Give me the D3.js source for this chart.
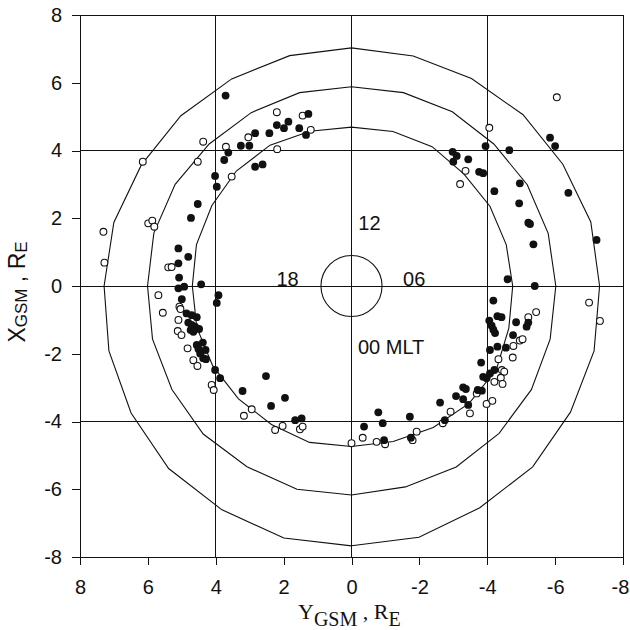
<!DOCTYPE html>
<html lang="en">
<head>
  <meta charset="UTF-8">
  <title>X_GSM vs Y_GSM</title>
  <style type="text/css">
    body {
      margin: 0;
      background: #fff;
    }
    .axis path, .axis line {
      fill: none;
      stroke: #111;
      shape-rendering: crispEdges;
    }
    .axis text {
      font-family: "Liberation Sans", Arial, sans-serif;
      font-size: 20px;
      fill: #111;
    }
    .grid line {
      stroke: #111;
      stroke-width: 1;
      shape-rendering: crispEdges;
    }
    .contour {
      fill: none;
      stroke: #111;
      stroke-width: 1.1;
    }
    .lbl {
      font-family: "Liberation Sans", Arial, sans-serif;
      font-size: 20px;
      fill: #111;
    }
  </style>
  <script src="https://cdn.jsdelivr.net/npm/d3@7"></script>
</head>
<body>
<div class="main"></div>
<script>
  // ticks
  var xTicks = [8, 6, 4, 2, 0, -2, -4, -6, -8];
  var yTicks = [-8, -6, -4, -2, 0, 2, 4, 6, 8];
  var gridVals = [-4, 0, 4];

  // contour radii (R_E) at each MLT hour 0..23
  var mltHours = d3.range(24);
  var outerR  = [7.67, 7.68, 7.56, 7.55, 7.45, 7.40, 7.31, 7.30, 7.19, 7.15, 7.07, 7.03,
                 7.03, 7.04, 7.06, 7.11, 7.15, 7.25, 7.29, 7.40, 7.50, 7.62, 7.63, 7.70];
  var middleR = [6.17, 6.14, 6.17, 6.15, 6.12, 6.06, 6.02, 6.00, 5.98, 5.93, 5.94, 5.91,
                 5.88, 5.91, 5.91, 5.93, 6.00, 6.03, 6.01, 6.07, 6.11, 6.18, 6.16, 6.21];
  var innerR  = [4.74, 4.75, 4.82, 4.90, 4.93, 4.80, 4.75, 4.72, 4.71, 4.68, 4.75, 4.72,
                 4.69, 4.73, 4.80, 4.80, 4.75, 4.73, 4.69, 4.72, 4.72, 4.71, 4.72, 4.78];
  var earthR = 0.9;

  // open circles: [Y_GSM, X_GSM]
  var openPts = [
    [7.31, 1.60], [7.28, 0.69], [6.15, 3.67], [5.99, 1.85], [5.87, 1.93], [5.81, 1.75],
    [4.37, 4.26], [4.53, 3.67], [5.40, 0.55], [5.30, 0.56], [5.69, -0.27], [5.56, -0.79],
    [5.07, -0.61], [5.04, -0.68], [5.10, -1.00], [5.12, -1.33], [5.01, -1.45], [4.83, -1.84],
    [4.66, -2.19], [4.54, -2.36], [4.12, -2.92], [4.06, -3.07], [3.17, -3.83], [2.94, -3.64],
    [2.25, -4.25], [2.03, -4.13], [1.52, -4.23], [1.44, -4.15], [3.70, 4.11], [3.53, 3.23],
    [3.04, 4.39], [2.20, 5.13], [2.19, 4.04], [1.44, 5.03], [1.20, 4.61],
    [0.00, -4.64], [-0.33, -4.48], [-0.74, -4.60], [-0.99, -4.67], [-1.80, -4.55], [-1.92, -4.30],
    [-2.69, -4.05], [-2.92, -3.71], [-3.49, -3.76], [-3.69, -3.17], [-3.98, -3.48], [-4.15, -3.39],
    [-4.21, -2.83], [-4.33, -2.16], [-4.43, -2.48], [-4.50, -2.53], [-4.40, -2.71], [-4.45, -2.89],
    [-4.77, -1.77], [-4.75, -2.11], [-4.96, -1.61], [-5.04, -1.57], [-5.21, -0.92], [-5.44, -0.77],
    [-7.32, -1.03], [-7.00, -0.49], [-6.05, 5.57], [-4.06, 4.67], [-3.36, 3.40], [-3.20, 3.01]
  ];

  // filled circles: [Y_GSM, X_GSM]
  var filledPts = [
    [3.71, 5.62], [4.02, 3.25], [3.97, 2.93], [3.75, 3.72], [3.63, 3.94], [4.53, 2.42],
    [4.73, 2.01], [5.10, 1.11], [4.81, 0.86], [5.10, 0.67], [5.08, 0.25], [5.10, -0.07],
    [4.93, -0.02], [5.00, -0.39], [4.43, 0.05], [3.92, -0.27], [3.97, -0.50], [4.86, -0.81],
    [4.71, -0.86], [4.56, -0.92], [4.81, -1.08], [4.71, -1.15], [4.61, -1.20], [4.49, -1.27],
    [4.74, -1.30], [4.66, -1.35], [4.38, -1.67], [4.56, -1.74], [4.51, -1.86], [4.30, -1.89],
    [4.46, -1.99], [4.37, -2.13], [4.29, -2.16], [4.02, -2.48], [3.87, -2.72], [3.21, -3.10],
    [2.52, -2.66], [1.96, -3.30], [2.37, -3.54], [1.66, -3.96], [1.47, -3.91],
    [3.26, 4.14], [3.01, 4.14], [2.84, 4.51], [2.84, 3.52], [2.62, 3.59], [2.42, 4.51],
    [2.20, 4.75], [1.99, 4.66], [1.86, 4.85], [1.54, 4.66], [1.34, 4.46], [1.27, 5.08],
    [-0.37, -4.15], [-0.79, -3.73], [-0.92, -4.05], [-0.96, -4.55], [-1.72, -3.86], [-1.75, -4.48],
    [-2.61, -3.44], [-2.75, -3.96], [-3.08, -3.25], [-3.29, -2.99], [-3.37, -3.04], [-3.29, -3.34],
    [-3.44, -3.51], [-3.72, -3.07], [-3.84, -3.09], [-3.82, -2.26], [-3.88, -2.68], [-3.98, -2.72],
    [-4.08, -1.89], [-4.30, -1.79], [-4.08, -2.58], [-4.21, -2.48], [-4.06, -1.02], [-4.13, -1.17],
    [-4.18, -1.29], [-4.23, -1.39], [-4.30, -0.89], [-4.42, -0.92], [-4.55, -1.82], [-4.76, -1.45],
    [-4.85, -1.07], [-5.16, -1.20], [-5.21, -1.08], [-4.60, 0.20], [-5.40, 0.00], [-4.18, -0.43],
    [-5.85, 4.38], [-6.00, 4.13], [-3.95, 4.13], [-4.65, 4.01], [-2.98, 3.96], [-3.10, 3.84],
    [-3.00, 3.67], [-3.44, 3.74], [-3.76, 3.37], [-3.88, 3.33], [-4.21, 2.80], [-4.96, 3.03],
    [-4.94, 2.44], [-5.21, 1.87], [-5.26, 1.83], [-5.36, 1.23], [-6.39, 2.75], [-7.22, 1.36]
  ];

  // MLT labels: [text, Y_GSM, X_GSM] anchor start, on baseline
  var mltLabels = [
    ["12", -0.20, 1.65],
    ["06", -1.52, 0.0],
    ["18", 2.21, 0.0],
    ["00 MLT", -0.19, -2.02]
  ];

  var margin = {top: 15, right: 7, bottom: 73, left: 80},
      width = 630 - margin.left - margin.right,
      height = 630 - margin.top - margin.bottom;

  var x = d3.scaleLinear().domain([8, -8]).range([0, width]);
  var y = d3.scaleLinear().domain([-8, 8]).range([height, 0]);

  var svg = d3.select(".main").append("svg")
      .attr("width", 630)
      .attr("height", 630)
    .append("g")
      .attr("transform", "translate(" + margin.left + "," + margin.top + ")");

  // grid lines at -4, 0, 4
  var grid = svg.append("g").attr("class", "grid");
  grid.selectAll(".gv").data(gridVals).enter().append("line")
      .attr("x1", function(d) { return x(d); })
      .attr("x2", function(d) { return x(d); })
      .attr("y1", 0).attr("y2", height);
  grid.selectAll(".gh").data(gridVals).enter().append("line")
      .attr("y1", function(d) { return y(d); })
      .attr("y2", function(d) { return y(d); })
      .attr("x1", 0).attr("x2", width);

  // frame
  svg.append("rect")
      .attr("width", width).attr("height", height)
      .attr("fill", "none").attr("stroke", "#111")
      .attr("shape-rendering", "crispEdges");

  // contours: MLT hour -> position
  var line = d3.line()
      .x(function(d) { return x(-d.r * Math.sin(d.h / 24 * 2 * Math.PI)); })
      .y(function(d) { return y(-d.r * Math.cos(d.h / 24 * 2 * Math.PI)); })
      .curve(d3.curveLinearClosed);

  [outerR, middleR, innerR].forEach(function(rs) {
    svg.append("path")
        .attr("class", "contour")
        .attr("d", line(mltHours.map(function(h) { return {h: h, r: rs[h]}; })));
  });

  // Earth
  svg.append("circle")
      .attr("class", "contour")
      .attr("cx", x(0)).attr("cy", y(0))
      .attr("r", x(0) - x(earthR));

  // points
  svg.selectAll(".open").data(openPts).enter().append("circle")
      .attr("class", "open")
      .attr("cx", function(d) { return x(d[0]); })
      .attr("cy", function(d) { return y(d[1]); })
      .attr("r", 3.4)
      .attr("fill", "#fff")
      .attr("stroke", "#111")
      .attr("stroke-width", 1.1);

  svg.selectAll(".filled").data(filledPts).enter().append("circle")
      .attr("class", "filled")
      .attr("cx", function(d) { return x(d[0]); })
      .attr("cy", function(d) { return y(d[1]); })
      .attr("r", 3.9)
      .attr("fill", "#111");

  // axes
  var xAxisG = svg.append("g")
      .attr("class", "x axis")
      .attr("transform", "translate(0," + height + ")")
      .call(d3.axisBottom(x).tickValues(xTicks).tickSize(8).tickPadding(15)
            .tickFormat(function(d) { return String(d); }));
  xAxisG.select(".domain").remove();
  // keep the last label inside the page
  xAxisG.selectAll(".tick text").filter(function(d) { return d === -8; })
      .attr("dx", -3);

  svg.append("g")
      .attr("class", "y axis")
      .call(d3.axisLeft(y).tickValues(yTicks).tickSize(8).tickPadding(10)
            .tickFormat(function(d) { return String(d); }))
      .select(".domain").remove();

  // MLT labels
  svg.selectAll(".lbl").data(mltLabels).enter().append("text")
      .attr("class", "lbl")
      .attr("x", function(d) { return x(d[1]); })
      .attr("y", function(d) { return y(d[2]); })
      .text(function(d) { return d[0]; });

  // x axis title (serif)
  var xt = d3.select("svg").append("text")
      .attr("x", 298).attr("y", 619)
      .style("font-family", "'Liberation Serif', 'Times New Roman', serif")
      .style("font-size", "22px")
      .style("fill", "#111");
  xt.append("tspan").text("Y");
  xt.append("tspan").attr("dy", 7).style("font-size", "20px").text("GSM");
  xt.append("tspan").attr("dy", -7).text(" , R");
  xt.append("tspan").attr("dy", 7).style("font-size", "20px").text("E");

  // y axis title
  var yt = d3.select("svg").append("text")
      .attr("transform", "translate(25,292) rotate(-90)")
      .attr("text-anchor", "middle")
      .style("font-family", "'Liberation Sans', Arial, sans-serif")
      .style("font-size", "23px")
      .style("fill", "#111");
  yt.append("tspan").text("X");
  yt.append("tspan").attr("dy", 2).style("font-size", "17px").text("GSM");
  yt.append("tspan").attr("dy", -2).text(" , R");
  yt.append("tspan").attr("dy", 2).style("font-size", "17px").text("E");
</script>
</body>
</html>
